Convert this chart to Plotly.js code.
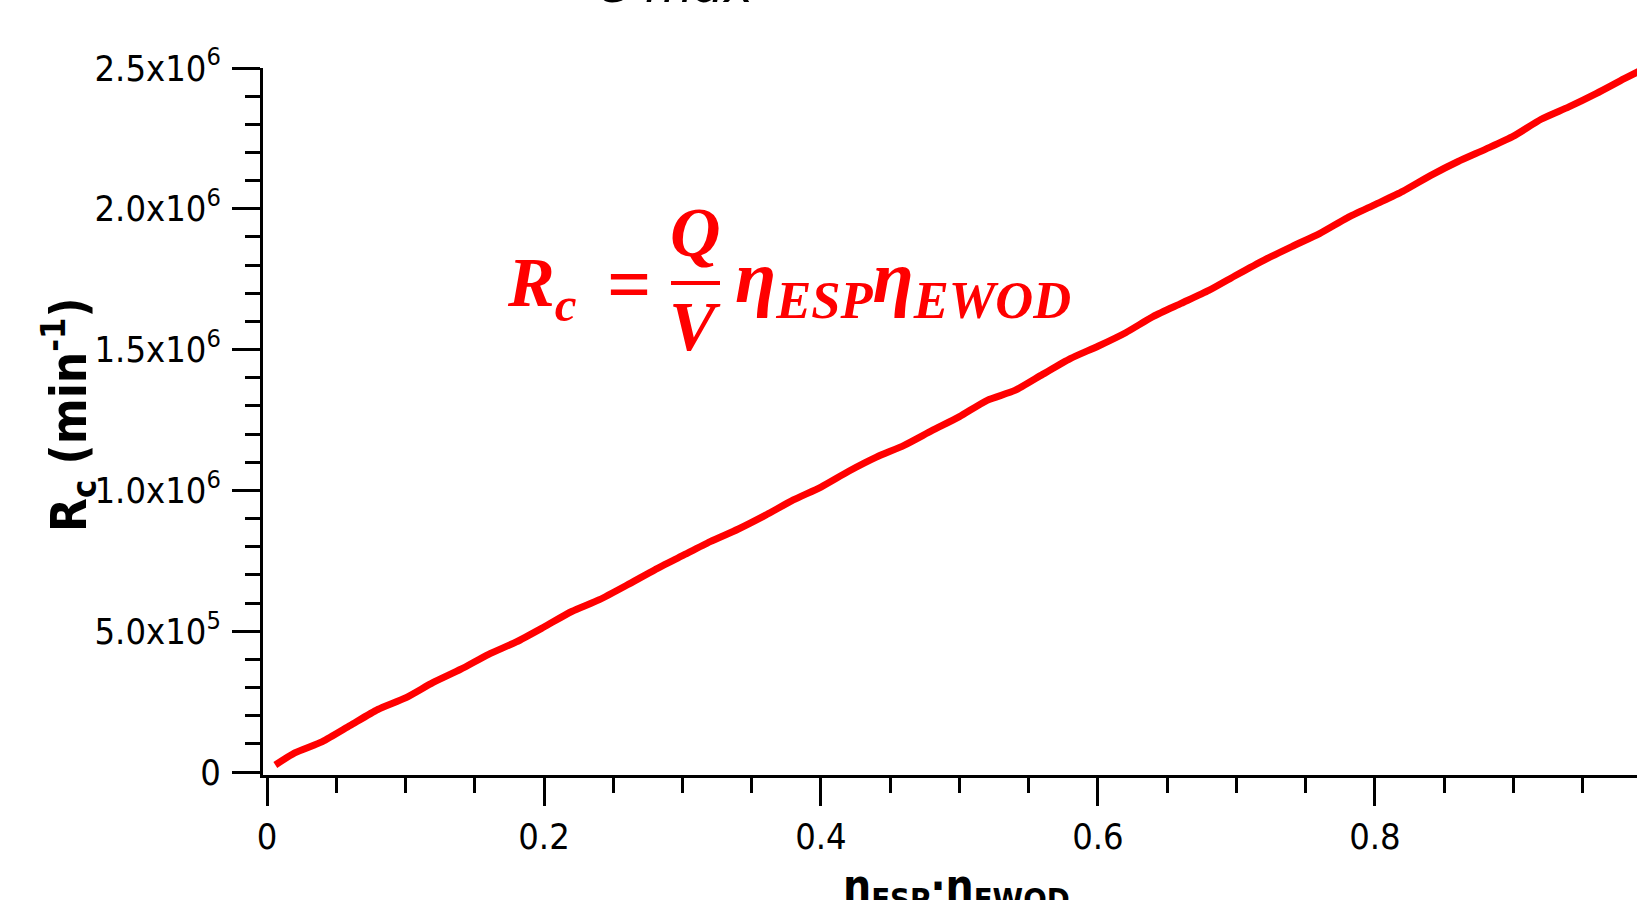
<!DOCTYPE html>
<html>
<head>
<meta charset="utf-8">
<script src="https://cdn.plot.ly/plotly-3.0.1.min.js"></script>
<style>html,body{margin:0;padding:0;background:#fff;}#chart{width:1637px;height:900px;}</style>
</head>
<body>
<div id="chart"></div>
<script>
// Data
const efficiencyProduct = [0.006, 0.02, 0.04, 0.06, 0.08, 0.10, 0.12, 0.14, 0.16, 0.18, 0.20, 0.22, 0.24, 0.26, 0.28, 0.30, 0.32, 0.34, 0.36, 0.38, 0.40, 0.42, 0.44, 0.46, 0.48, 0.50, 0.52, 0.54, 0.56, 0.58, 0.60, 0.62, 0.64, 0.66, 0.68, 0.70, 0.72, 0.74, 0.76, 0.78, 0.80, 0.82, 0.84, 0.86, 0.88, 0.90, 0.92, 0.94, 0.96, 0.98, 1.00];
const captureRate = [25000, 68000, 108000, 165000, 222000, 263000, 318000, 365000, 418000, 462000, 515000, 570000, 612000, 664000, 718000, 768000, 818000, 862000, 912000, 966000, 1012000, 1068000, 1118000, 1160000, 1212000, 1262000, 1320000, 1355000, 1412000, 1468000, 1512000, 1560000, 1618000, 1664000, 1710000, 1765000, 1818000, 1866000, 1912000, 1968000, 2015000, 2062000, 2118000, 2168000, 2212000, 2258000, 2318000, 2362000, 2410000, 2462000, 2512000];
const xTickVals = [0, 0.2, 0.4, 0.6, 0.8];
const xTickText = ['0', '0.2', '0.4', '0.6', '0.8'];
const yTickVals = [0, 500000, 1000000, 1500000, 2000000, 2500000];
const yTickText = ['0', '5.0x10<sup>5</sup>', '1.0x10<sup>6</sup>', '1.5x10<sup>6</sup>', '2.0x10<sup>6</sup>', '2.5x10<sup>6</sup>'];

const L = 263, T = 68, W = 1374, H = 707;
const px = x => (x - L) / W;
const py = y => (T + H - y) / H;

const tickFont = {family: '"DejaVu Sans Condensed", "DejaVu Sans", sans-serif', size: 36, color: '#000'};
const boldFam = '"DejaVu Sans Condensed", "DejaVu Sans", sans-serif';
const mathFam = '"Liberation Serif", "DejaVu Serif", serif';
const red = '#ff0000';

const trace = {
  x: efficiencyProduct, y: captureRate, type: 'scatter', mode: 'lines',
  line: {color: red, width: 7, shape: 'spline', smoothing: 0.6}, hoverinfo: 'skip', showlegend: false
};

const layout = {
  width: 1637, height: 900,
  margin: {l: L, r: 0, t: T, b: 900 - T - H, pad: 0},
  paper_bgcolor: '#fff', plot_bgcolor: '#fff',
  showlegend: false,
  xaxis: {
    range: [-0.0029, 0.9892], showgrid: false, zeroline: false,
    showline: true, linecolor: '#000', linewidth: 3,
    ticks: 'outside', ticklen: 28, tickwidth: 3, tickcolor: '#000',
    tickmode: 'array', tickvals: xTickVals, ticktext: xTickText,
    tickfont: tickFont,
    minor: {dtick: 0.05, tick0: 0, ticks: 'outside', ticklen: 15, tickwidth: 3, tickcolor: '#000', showgrid: false}
  },
  yaxis: {
    range: [-10600, 2500000], showgrid: false, zeroline: false,
    showline: true, linecolor: '#000', linewidth: 3,
    ticks: 'outside', ticklen: 28, tickwidth: 3, tickcolor: '#000',
    tickmode: 'array', tickvals: yTickVals, ticktext: yTickText,
    tickfont: tickFont, ticklabelstandoff: 4,
    minor: {dtick: 100000, tick0: 0, ticks: 'outside', ticklen: 15, tickwidth: 3, tickcolor: '#000', showgrid: false}
  },
  shapes: [
    {type: 'line', xref: 'paper', yref: 'paper', x0: px(671), x1: px(720), y0: py(283), y1: py(283), line: {color: red, width: 4}}
  ],
  annotations: [
    // partially cut title at top
    {text: '<i>e max</i>', xref: 'paper', yref: 'paper', x: px(676), y: py(-15), xanchor: 'center', yanchor: 'middle', showarrow: false,
     font: {family: '"DejaVu Sans", sans-serif', size: 50, color: '#000'}},
    // y axis title
    {text: '<b>R<sub>c</sub> (min<sup>-1</sup>)</b>', xref: 'paper', yref: 'paper', x: px(68), y: py(415), xanchor: 'center', yanchor: 'middle', textangle: -90, showarrow: false,
     font: {family: boldFam, size: 49, color: '#000'}},
    // x axis title (cut at bottom)
    {text: '<b>η<sub>ESP</sub>·η<sub>EWOD</sub></b>', xref: 'paper', yref: 'paper', x: px(956), y: py(888), xanchor: 'center', yanchor: 'middle', showarrow: false,
     font: {family: boldFam, size: 44, color: '#000'}},
    // formula
    {text: '<b><i>R<sub>c</sub></i></b>', xref: 'paper', yref: 'paper', x: px(505), y: py(288), xanchor: 'left', yanchor: 'middle', showarrow: false,
     font: {family: mathFam, size: 70, color: red}},
    {text: '<b>=</b>', xref: 'paper', yref: 'paper', x: px(629), y: py(283), xanchor: 'center', yanchor: 'middle', showarrow: false,
     font: {family: mathFam, size: 78, color: red}},
    {text: '<b><i>Q</i></b>', xref: 'paper', yref: 'paper', x: px(695), y: py(232), xanchor: 'center', yanchor: 'middle', showarrow: false,
     font: {family: mathFam, size: 70, color: red}},
    {text: '<b><i>V</i></b>', xref: 'paper', yref: 'paper', x: px(695), y: py(326), xanchor: 'center', yanchor: 'middle', showarrow: false,
     font: {family: mathFam, size: 70, color: red}},
    {text: '<b><i>η<sub>ESP</sub>η<sub>EWOD</sub></i></b>', xref: 'paper', yref: 'paper', x: px(733), y: py(282), xanchor: 'left', yanchor: 'middle', showarrow: false,
     font: {family: mathFam, size: 75, color: red}}
  ]
};

Plotly.newPlot('chart', [trace], layout, {displayModeBar: false, staticPlot: true});
</script>
</body>
</html>
